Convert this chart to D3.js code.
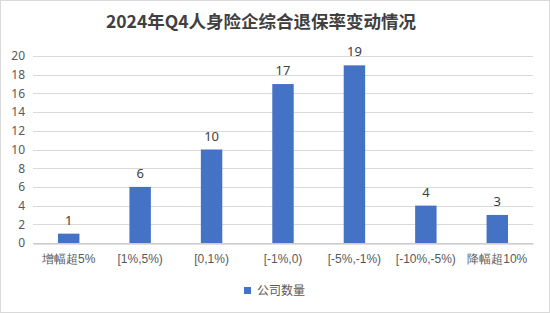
<!DOCTYPE html>
<html>
<head>
<meta charset="utf-8">
<script src="https://cdn.jsdelivr.net/npm/d3@7"></script>
<style>
  html, body { margin: 0; padding: 0; background: #fff; }
  svg { display: block; font-family: "Noto Sans CJK SC", "Noto Sans", sans-serif; }
</style>
</head>
<body>
<svg id="chart" width="550" height="313"></svg>
<script>
// 数据
var categories = ["增幅超5%", "[1%,5%)", "[0,1%)", "[-1%,0)", "[-5%,-1%)", "[-10%,-5%)", "降幅超10%"];
var counts = [1, 6, 10, 17, 19, 4, 3];
var yTicks = [0, 2, 4, 6, 8, 10, 12, 14, 16, 18, 20];
var seriesName = "公司数量";
var title = "2024年Q4人身险企综合退保率变动情况";

var width = 550, height = 313;
var margin = { top: 56, right: 17, bottom: 70, left: 33 };

var svg = d3.select("#chart");

// 外框
svg.append("rect")
    .attr("x", 0.5).attr("y", 0.5)
    .attr("width", width - 1).attr("height", height - 1)
    .attr("fill", "#fff")
    .attr("stroke", "#d9d9d9");

/* 标题 */
svg.append("text")
    .attr("x", 261)
    .attr("y", 28)
    .attr("text-anchor", "middle")
    .attr("font-size", "17.5px")
    .attr("font-weight", "bold")
    .attr("fill", "#404040")
    .text(title);

var x = d3.scaleBand()
    .domain(categories)
    .range([margin.left, width - margin.right])
    .paddingInner(0.7)
    .paddingOuter(0.35);

var y = d3.scaleLinear()
    .domain([0, 20])
    .range([height - margin.bottom, margin.top]);

/* 网格线 */
svg.append("g")
    .selectAll("line")
    .data(yTicks)
    .enter()
    .append("line")
    .attr("x1", margin.left)
    .attr("x2", width - margin.right)
    .attr("y1", function(d) { return Math.round(y(d)) + 0.5; })
    .attr("y2", function(d) { return Math.round(y(d)) + 0.5; })
    .attr("stroke", "#d9d9d9")
    .attr("stroke-width", 1);

/* Y 轴标签 */
var yAxis = d3.axisLeft(y).tickValues(yTicks).tickSize(0).tickPadding(8);
var yg = svg.append("g")
    .attr("transform", "translate(" + margin.left + ",0)")
    .call(yAxis);
yg.select(".domain").remove();
yg.selectAll("text")
    .attr("font-size", "12px")
    .attr("fill", "#595959")
    .attr("font-family", "\"Noto Sans\", sans-serif");

/* 柱子 */
svg.append("g")
    .selectAll("rect")
    .data(counts)
    .enter()
    .append("rect")
    .attr("x", function(d, i) { return x(categories[i]); })
    .attr("y", function(d) { return y(d); })
    .attr("width", x.bandwidth())
    .attr("height", function(d) { return y(0) - y(d); })
    .attr("fill", "#4472c4");

/* 数据标签 */
svg.append("g")
    .selectAll("text")
    .data(counts)
    .enter()
    .append("text")
    .attr("x", function(d, i) { return x(categories[i]) + x.bandwidth() / 2; })
    .attr("y", function(d) { return y(d) - 9; })
    .attr("text-anchor", "middle")
    .attr("font-size", "13px")
    .attr("fill", "#404040")
    .attr("font-family", "\"Noto Sans\", sans-serif")
    .text(function(d) { return d; });

/* X 轴 */
var xAxis = d3.axisBottom(x).tickSize(0).tickPadding(11);
var xg = svg.append("g")
    .attr("transform", "translate(0," + (Math.round(y(0)) + 0.5) + ")")
    .call(xAxis);
xg.select(".domain").attr("stroke", "#bfbfbf");
xg.selectAll("text")
    .attr("font-size", "12px")
    .attr("fill", "#595959");

/* 图例 */
var legend = svg.append("g").attr("transform", "translate(244,287)");
legend.append("rect")
    .attr("width", 7).attr("height", 7)
    .attr("fill", "#4472c4");
legend.append("text")
    .attr("x", 13)
    .attr("y", 8)
    .attr("font-size", "12px")
    .attr("fill", "#595959")
    .text(seriesName);
</script>
</body>
</html>
